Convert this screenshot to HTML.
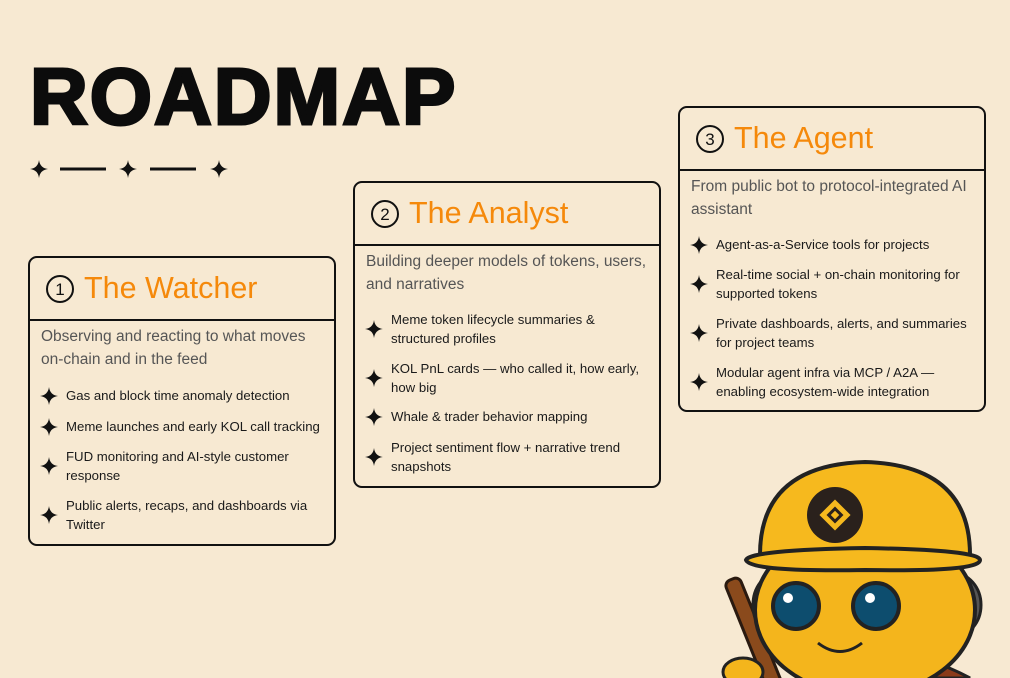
<!DOCTYPE html>
<html><head><meta charset="utf-8"><style>
*{margin:0;padding:0;box-sizing:border-box}
body{width:1010px;height:678px;overflow:hidden;background:#f7e9d2;font-family:"Liberation Sans",sans-serif;position:relative}
.h1{position:absolute;left:30px;top:52px;font-size:80px;font-weight:900;letter-spacing:2px;color:#0c0c0c;-webkit-text-stroke:3px #0c0c0c;line-height:90px}
.card{position:absolute;width:308px;border:2px solid #111;border-radius:9px}
.hd{height:63px;border-bottom:2px solid #111;position:relative}
.num{position:absolute;left:16px;top:17px;width:28px;height:28px;border:2px solid #111;border-radius:50%;font-size:17px;text-align:center;line-height:25px;color:#111}
.tt{position:absolute;left:54px;top:13px;font-size:30.5px;color:#f5890b}
.ds{position:absolute;left:11px;font-size:15.5px;line-height:23px;color:#555;white-space:nowrap}
.it{position:absolute;left:36px;font-size:13.2px;line-height:19px;color:#1a1a1a;width:258px}
.st{position:absolute;left:-26px;top:50%;margin-top:-9px;width:18px;height:18px}
</style></head><body>
<svg width="0" height="0" style="position:absolute"><defs><path id="s" d="M9 0 Q10 8 18 9 Q10 10 9 18 Q8 10 0 9 Q8 8 9 0Z" fill="#111"/></defs></svg>
<div class="h1">ROADMAP</div>
<svg style="position:absolute;left:28px;top:158px" width="205" height="22">
<use href="#s" transform="translate(2,2)"/><rect x="32" y="9.5" width="46" height="3" fill="#111"/>
<use href="#s" transform="translate(91,2)"/><rect x="122" y="9.5" width="46" height="3" fill="#111"/>
<use href="#s" transform="translate(182,2)"/></svg>

<div class="card" style="left:28px;top:256px;height:290px">
<div class="hd"><div class="num">1</div><div class="tt">The Watcher</div></div>
<div class="ds" style="top:67px">Observing and reacting to what moves<br>on-chain and in the feed</div>
<div class="it" style="top:128px"><svg class="st"><use href="#s"/></svg>Gas and block time anomaly detection</div>
<div class="it" style="top:159px"><svg class="st"><use href="#s"/></svg>Meme launches and early KOL call tracking</div>
<div class="it" style="top:189px"><svg class="st"><use href="#s"/></svg>FUD monitoring and AI-style customer response</div>
<div class="it" style="top:238px"><svg class="st"><use href="#s"/></svg>Public alerts, recaps, and dashboards via Twitter</div>
</div>

<div class="card" style="left:353px;top:181px;height:307px">
<div class="hd"><div class="num">2</div><div class="tt">The Analyst</div></div>
<div class="ds" style="top:67px">Building deeper models of tokens, users,<br>and narratives</div>
<div class="it" style="top:127px"><svg class="st"><use href="#s"/></svg>Meme token lifecycle summaries &amp;<br>structured profiles</div>
<div class="it" style="top:176px"><svg class="st"><use href="#s"/></svg>KOL PnL cards — who called it, how early, how big</div>
<div class="it" style="top:224px"><svg class="st"><use href="#s"/></svg>Whale &amp; trader behavior mapping</div>
<div class="it" style="top:255px"><svg class="st"><use href="#s"/></svg>Project sentiment flow + narrative trend snapshots</div>
</div>

<div class="card" style="left:678px;top:106px;height:306px">
<div class="hd"><div class="num">3</div><div class="tt">The Agent</div></div>
<div class="ds" style="top:67px">From public bot to protocol-integrated AI<br>assistant</div>
<div class="it" style="top:127px"><svg class="st"><use href="#s"/></svg>Agent-as-a-Service tools for projects</div>
<div class="it" style="top:157px"><svg class="st"><use href="#s"/></svg>Real-time social + on-chain monitoring for supported tokens</div>
<div class="it" style="top:206px"><svg class="st"><use href="#s"/></svg>Private dashboards, alerts, and summaries for project teams</div>
<div class="it" style="top:255px"><svg class="st"><use href="#s"/></svg>Modular agent infra via MCP / A2A — enabling ecosystem-wide integration</div>
</div>

<svg style="position:absolute;left:680px;top:460px" width="330" height="218">
<path d="M170 200 Q230 185 290 218 L150 218Z" fill="#8a3a1a" stroke="#222" stroke-width="3"/>
<rect x="66" y="115" width="16" height="120" rx="6" transform="rotate(-22 74 175)" fill="#8a4a1c" stroke="#2a1a10" stroke-width="3"/>
<ellipse cx="273" cy="145" rx="28" ry="32" fill="#555" stroke="#222" stroke-width="3"/>
<ellipse cx="98" cy="145" rx="25" ry="32" fill="#555" stroke="#222" stroke-width="3"/>
<ellipse cx="185" cy="150" rx="110" ry="85" fill="#f4b51c" stroke="#222" stroke-width="4"/>
<path d="M80 95 Q80 5 185 2 Q290 5 290 95Z" fill="#f6b91e" stroke="#222" stroke-width="4"/>
<path d="M66 100 Q70 90 185 88 Q300 90 300 100 Q300 112 185 110 Q70 112 66 100Z" fill="#f6b91e" stroke="#222" stroke-width="4"/>
<circle cx="155" cy="55" r="28" fill="#2a211c"/>
<g fill="#f6b91e" transform="translate(155,55) rotate(45)"><rect x="-11" y="-11" width="22" height="22"/><rect x="-6" y="-6" width="12" height="12" fill="#2a211c"/><rect x="-3" y="-3" width="6" height="6"/></g>
<circle cx="116" cy="146" r="23" fill="#0d4d6e" stroke="#222" stroke-width="4"/>
<circle cx="196" cy="146" r="23" fill="#0d4d6e" stroke="#222" stroke-width="4"/>
<circle cx="108" cy="138" r="5" fill="#fff"/><circle cx="190" cy="138" r="5" fill="#fff"/>
<path d="M138 183 Q160 200 182 183" fill="none" stroke="#222" stroke-width="3"/>
<ellipse cx="63" cy="212" rx="20" ry="14" fill="#f4b51c" stroke="#222" stroke-width="3"/>
</svg>
</body></html>
